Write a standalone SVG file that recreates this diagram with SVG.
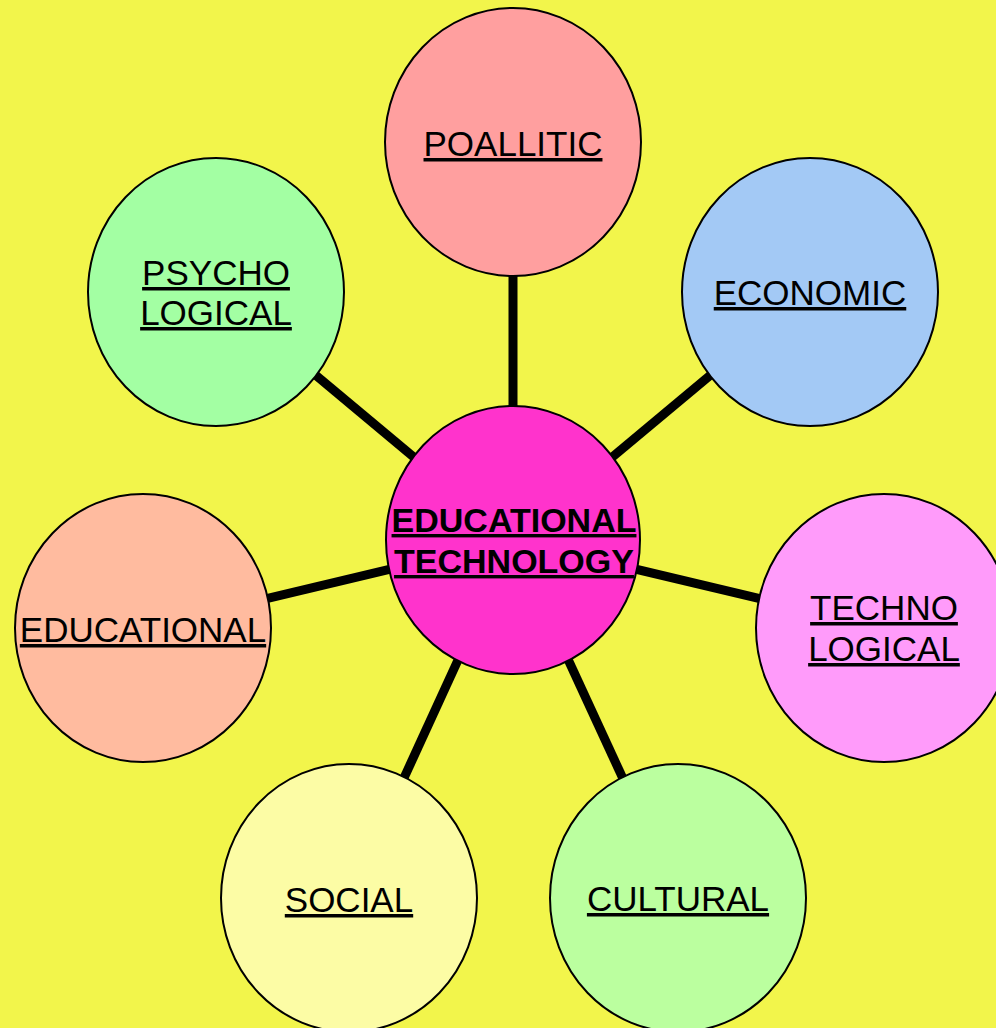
<svg xmlns="http://www.w3.org/2000/svg" width="996" height="1028" viewBox="0 0 996 1028">
<style>
.bg{fill:#F2F54B}
.node{stroke:#000;stroke-width:2}
.lbl{font-family:"Liberation Sans",Arial,sans-serif;font-size:35px;fill:#000;text-anchor:middle;text-decoration:underline}
.bold{font-weight:bold;font-size:34px}
.conn{stroke:#000;stroke-width:9;fill:none}
</style>
<rect class="bg" x="0" y="0" width="996" height="1028"/>
<g id="connectors">
<line class="conn" x1="513" y1="540" x2="513" y2="142"/>
<line class="conn" x1="513" y1="540" x2="810" y2="292"/>
<line class="conn" x1="513" y1="540" x2="216" y2="292"/>
<line class="conn" x1="513" y1="540" x2="143" y2="628"/>
<line class="conn" x1="513" y1="540" x2="884" y2="628"/>
<line class="conn" x1="513" y1="540" x2="349" y2="898"/>
<line class="conn" x1="513" y1="540" x2="678" y2="898"/>
</g>
<g id="poallitic">
<ellipse class="node" cx="513" cy="142" rx="128" ry="134" fill="#FF9F9F"/>
<text class="lbl" x="513" y="156">POALLITIC</text>
</g>
<g id="economic">
<ellipse class="node" cx="810" cy="292" rx="128" ry="134" fill="#A3C9F5"/>
<text class="lbl" x="810" y="305">ECONOMIC</text>
</g>
<g id="psychological">
<ellipse class="node" cx="216" cy="292" rx="128" ry="134" fill="#A3FFA3"/>
<text class="lbl" x="216" y="285">PSYCHO</text>
<text class="lbl" x="216" y="325">LOGICAL</text>
</g>
<g id="educational">
<ellipse class="node" cx="143" cy="628" rx="128" ry="134" fill="#FFBB9F"/>
<text class="lbl" x="143" y="642">EDUCATIONAL</text>
</g>
<g id="technological">
<ellipse class="node" cx="884" cy="628" rx="128" ry="134" fill="#FF9BFA"/>
<text class="lbl" x="884" y="620">TECHNO</text>
<text class="lbl" x="884" y="661">LOGICAL</text>
</g>
<g id="social">
<ellipse class="node" cx="349" cy="898" rx="128" ry="134" fill="#FCFCA5"/>
<text class="lbl" x="349" y="912">SOCIAL</text>
</g>
<g id="cultural">
<ellipse class="node" cx="678" cy="898" rx="128" ry="134" fill="#BBFF9F"/>
<text class="lbl" x="678" y="911">CULTURAL</text>
</g>
<g id="center">
<ellipse class="node" cx="513" cy="540" rx="127" ry="134" fill="#FF33CC"/>
<text class="lbl bold" x="514" y="532">EDUCATIONAL</text>
<text class="lbl bold" x="514" y="573">TECHNOLOGY</text>
</g>
</svg>
